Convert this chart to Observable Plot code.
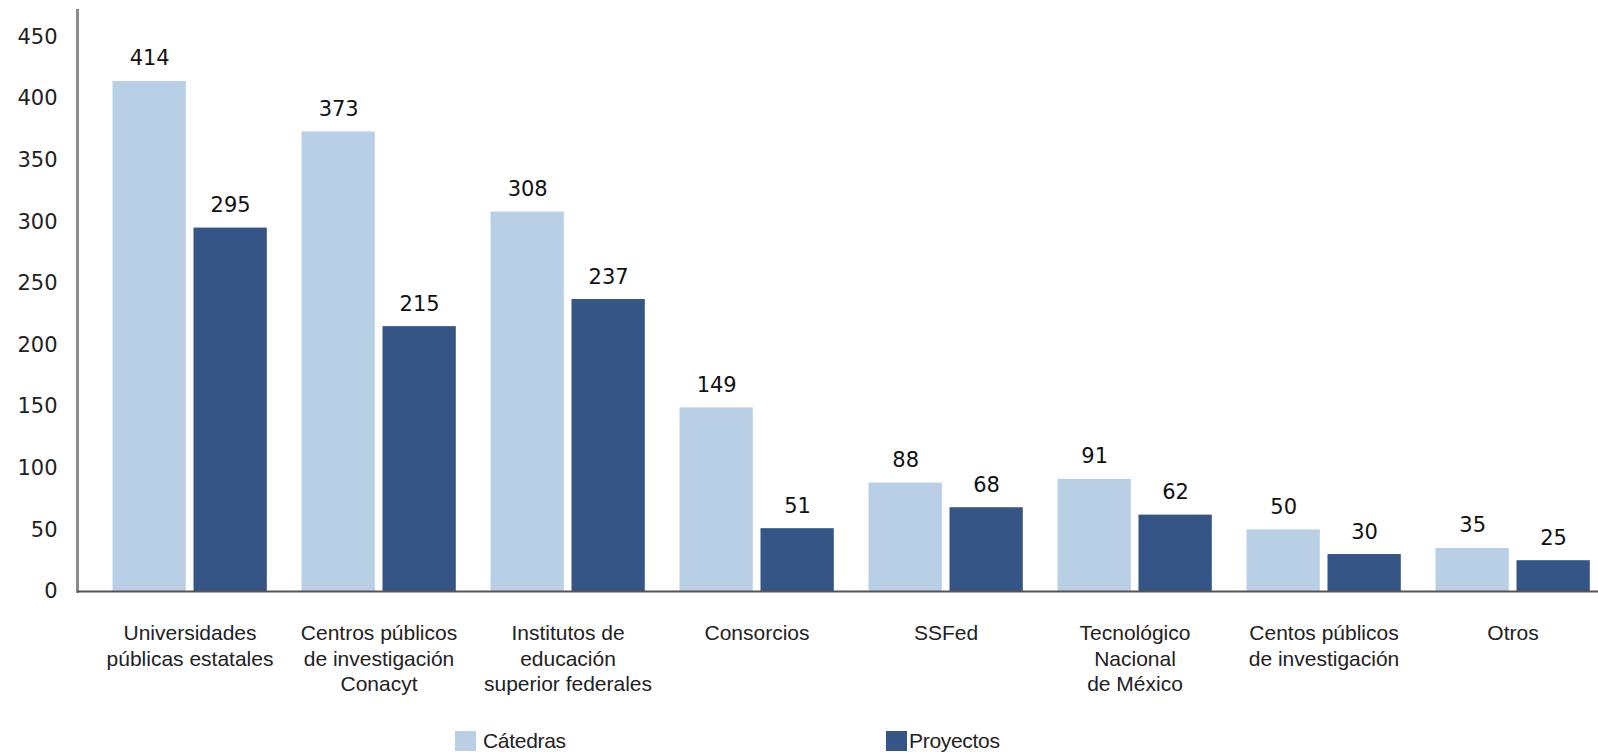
<!DOCTYPE html>
<html>
<head>
<meta charset="utf-8">
<script src="https://cdn.jsdelivr.net/npm/d3@7"></script>
<script src="https://cdn.jsdelivr.net/npm/@observablehq/plot@0.6"></script>
<style>
  html, body { margin: 0; padding: 0; background: #fff; overflow: hidden; }
  #wrap { position: relative; width: 1598px; height: 755px; }
  #chart svg { max-width: none; display: block; }
  .legend { position: absolute; top: 731px; height: 20px; display: flex; align-items: center;
            font-family: "Liberation Sans", Arial, sans-serif; font-size: 21px; color: #222; letter-spacing: -0.3px; }
  .legend .sw { width: 21px; height: 20px; display: inline-block; }
</style>
</head>
<body>
<div id="wrap">
  <div id="chart"></div>
  <div class="legend" style="left:455px"><span class="sw" style="background:#b8cfe6;margin-right:7px"></span>Cátedras</div>
  <div class="legend" style="left:886px"><span class="sw" style="background:#365587;margin-right:2px"></span>Proyectos</div>
</div>
<script>
const categories = [
  "Universidades\npúblicas estatales",
  "Centros públicos\nde investigación\nConacyt",
  "Institutos de\neducación\nsuperior federales",
  "Consorcios",
  "SSFed",
  "Tecnológico\nNacional\nde México",
  "Centos públicos\nde investigación",
  "Otros"
];
const catedras  = [414, 373, 308, 149, 88, 91, 50, 35];
const proyectos = [295, 215, 237, 51, 68, 62, 30, 25];
const yTicks = [0, 50, 100, 150, 200, 250, 300, 350, 400, 450];

const colLight = "#b8cfe6";
const colDark = "#365587";

const dataC = categories.map((c, i) => ({cat: c, value: catedras[i]}));
const dataP = categories.map((c, i) => ({cat: c, value: proyectos[i]}));

const numFont = "DejaVu Sans, Verdana, sans-serif";

const plot = Plot.plot({
  width: 1598,
  height: 715,
  marginLeft: 77,
  marginRight: 0,
  marginTop: 10,
  marginBottom: 124,
  style: {background: "transparent", overflow: "hidden"},
  x: {domain: categories, range: [92.5, 1610.1], padding: 0, axis: null},
  y: {domain: [0, 471.6], axis: null},
  marks: [
    Plot.barY(dataC, {x: "cat", y: "value", fill: colLight, insetLeft: 17.5, insetRight: 98.2}),
    Plot.barY(dataP, {x: "cat", y: "value", fill: colDark, insetLeft: 98.5, insetRight: 17.2}),
    Plot.text(dataC, {x: "cat", y: "value", text: d => String(d.value), dx: -40.3, dy: -16,
      lineAnchor: "bottom", fontSize: 21, fontFamily: numFont, fill: "#111"}),
    Plot.text(dataP, {x: "cat", y: "value", text: d => String(d.value), dx: 40.6, dy: -16,
      lineAnchor: "bottom", fontSize: 21, fontFamily: numFont, fill: "#111"}),
    Plot.axisY({ticks: yTicks, tickSize: 0, tickPadding: 20, fontSize: 21, fontFamily: numFont,
      color: "#222", label: null}),
    Plot.axisX({tickSize: 0, tickPadding: 31, fontSize: 21, lineHeight: 1.2,
      fontFamily: "Liberation Sans, Arial, sans-serif", color: "#222", label: null}),
    Plot.frame({anchor: "left", stroke: "#8c8c8c", strokeWidth: 3}),
    Plot.ruleY([0], {stroke: "#555", strokeWidth: 2})
  ]
});
document.getElementById("chart").appendChild(plot);
</script>
</body>
</html>
